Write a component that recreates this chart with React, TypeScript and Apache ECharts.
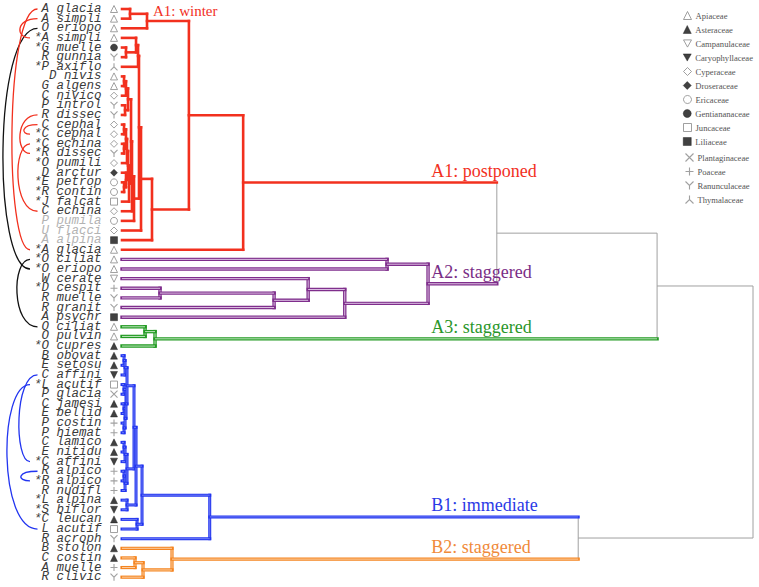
import React, { useEffect, useRef } from 'react';
import * as echarts from 'echarts';

// ---------------- DATA ----------------
const leafNames = [
  'A glacia', 'A simpli', 'O eriopo', '*A simpli', '*G muelle', 'R gunnia', '*P axiflo', 'D nivis', 'G algens', 'C nivico',
  'P introl', 'R dissec', 'C cephal', '*C cephal', '*C echina', '*R dissec', '*O pumili', 'D arctur', '*E petrop', '*R contin',
  '*J falcat', 'C echina', 'P pumila', 'U flacci', 'A alpina', '*A glacia', '*O ciliat', '*O eriopo', 'W cerate', '*D cespit',
  'R muelle', 'R granit', 'A psychr', 'O ciliat', 'O pulvin', '*O cupres', 'B obovat', 'E setosu', 'C affini', '*L acutif',
  'P glacia', 'C jamesi', 'E bellid', 'P costin', 'P hiemat', 'C lamico', 'E nitidu', '*C affini', 'R alpico', '*R alpico',
  'R nudifl', '*L alpina', '*S biflor', '*C leucan', 'L acutif', 'R acroph', 'B stolon', 'C costin', 'A muelle', 'R clivic',
];

const familyNames = [
  'Apiaceae', 'Asteraceae', 'Campanulaceae', 'Caryophyllaceae', 'Cyperaceae', 'Droseraceae', 'Ericaceae',
  'Gentiananaceae', 'Juncaceae', 'Liliaceae', 'Plantaginaceae', 'Poaceae', 'Ranunculaceae', 'Thymalaceae',
];

// family index of every leaf
const leafFamily = [
  0, 0, 0, 0, 7, 12, 13, 0, 0, 4,
  12, 12, 4, 4, 4, 12, 4, 5, 6, 6,
  8, 4, 6, 4, 9, 0, 0, 0, 2, 11,
  12, 12, 9, 0, 0, 1, 1, 1, 3, 8,
  10, 1, 1, 11, 11, 1, 1, 3, 11, 11,
  11, 1, 3, 1, 8, 12, 1, 1, 11, 12,
];

const fadedLeaves = ['P pumila', 'U flacci', 'A alpina'];

// merges: [node, left child, right child, dissimilarity (0-100)]
const merges: [string, string, string, number][] = [
  ['w1', 'A glacia', 'A simpli', 1.27],
  ['winter', 'w1', 'O eriopo', 3.96],
  ['s1a', '*G muelle', 'R gunnia', 0.63],
  ['s1b', '*A simpli', 's1a', 2.22],
  ['s1', 's1b', '*P axiflo', 2.54],
  ['d1', 'D nivis', 'G algens', 0.32],
  ['d2', 'd1', 'C nivico', 0.63],
  ['d3', 'P introl', 'R dissec', 0.48],
  ['d4', 'd2', 'd3', 0.95],
  ['d5', 'C cephal', '*C cephal', 0.32],
  ['d6', '*C echina', '*R dissec', 0.32],
  ['d7', 'd5', 'd6', 0.63],
  ['d8', 'd7', '*O pumili', 0.79],
  ['d9', '*E petrop', '*R contin', 0.32],
  ['d10', 'D arctur', 'd9', 0.63],
  ['d11', 'd8', 'd10', 0.95],
  ['d12', 'd11', '*J falcat', 1.11],
  ['d13', 'd4', 'd12', 1.43],
  ['d14', 'd13', 'C echina', 1.58],
  ['d15', 'd14', 'P pumila', 1.9],
  ['d16', 's1', 'd15', 2.69],
  ['d17', 'd16', 'U flacci', 3.01],
  ['d18', 'd17', 'A alpina', 4.75],
  ['d19', 'winter', 'd18', 10.6],
  ['A1', 'd19', '*A glacia', 19.2],
  ['p1', '*O ciliat', '*O eriopo', 42.0],
  ['p2', '*D cespit', 'R muelle', 6.02],
  ['p3', 'p2', 'R granit', 24.1],
  ['p4', 'W cerate', 'p3', 29.5],
  ['p5', 'p4', 'A psychr', 35.3],
  ['A2', 'p1', 'p5', 48.5],
  ['g1', 'O ciliat', 'O pulvin', 3.65],
  ['A3', 'g1', '*O cupres', 5.23],
  ['A12', 'A1', 'A2', 59.4],
  ['A', 'A12', 'A3', 84.8],
  ['b1', 'B obovat', 'E setosu', 0.32],
  ['b2', 'b1', 'C affini', 0.48],
  ['b3', '*L acutif', 'P glacia', 0.32],
  ['b4', 'C jamesi', 'E bellid', 0.32],
  ['b5', 'P costin', 'P hiemat', 0.32],
  ['b6', 'b4', 'b5', 0.48],
  ['b7', 'b3', 'b6', 0.63],
  ['b8', 'b2', 'b7', 0.79],
  ['b9', 'C lamico', 'E nitidu', 0.32],
  ['b10', 'b9', '*C affini', 0.48],
  ['b11', 'R alpico', '*R alpico', 0.32],
  ['b12', 'b11', 'R nudifl', 0.48],
  ['b13', 'b10', 'b12', 0.79],
  ['b14', 'b8', 'b13', 1.9],
  ['b15', '*L alpina', '*S biflor', 0.79],
  ['b16', 'b14', 'b15', 2.22],
  ['b17', '*C leucan', 'L acutif', 2.38],
  ['b18', 'b16', 'b17', 3.17],
  ['B1', 'b18', 'R acroph', 13.9],
  ['o1', 'C costin', 'A muelle', 2.06],
  ['o2', 'o1', 'R clivic', 3.33],
  ['B2', 'B stolon', 'o2', 7.92],
  ['B', 'B1', 'B2', 72.3],
  ['root', 'A', 'B', 100],
];

// cluster roots and their colour keys
const clusterRoots: [string, number][] = [['A1', 1], ['A2', 2], ['A3', 3], ['B1', 4], ['B2', 5]];

// cluster annotation texts: [node, text]
const clusterLabels: [string, string][] = [
  ['winter', 'A1: winter'],
  ['A1', 'A1: postponed'],
  ['A2', 'A2: staggered'],
  ['A3', 'A3: staggered'],
  ['B1', 'B1: immediate'],
  ['B2', 'B2: staggered'],
];

// paired species links drawn at the left: [leaf, leaf, colour key]
const pairLinks: [string, string, number][] = [
  ['O eriopo', '*O eriopo', 6],
  ['*O ciliat', 'O ciliat', 6],
  ['A glacia', '*A glacia', 1],
  ['A simpli', '*A simpli', 1],
  ['R dissec', '*R dissec', 1],
  ['C cephal', '*C cephal', 1],
  ['C echina', '*C echina', 1],
  ['C affini', '*C affini', 4],
  ['*L acutif', 'L acutif', 4],
  ['R alpico', '*R alpico', 4],
];

// ---------------- LAYOUT / STYLE ----------------
const W = 759;
const H = 587;
const GRID_LEFT = 109.4;
const GRID_RIGHT = 6;
const GRID_TOP = 4.2;
const GRID_HEIGHT = 577.8;
const X_MIN = -2;
const X_MAX = 100;
const SYMBOL_X = -1.27;
const LABEL_RIGHT = 101.5;
const LABEL_FONT = 12.5;
const CHAR_W = LABEL_FONT * 0.6;
const LINK_BULGE = [3, 17, 12, 20, 20, 24, 18, 19, 7, 21];
const LABEL_X = { winter: 4.9, other: 49 };
const LEGEND_LEFT = 683;
const LEGEND_TOP = 11;
const LEGEND_STEP = 14;

const STYLES: { color: string; width: number; inner?: string; innerWidth?: number }[] = [
  { color: '#a0a0a0', width: 1 },
  { color: '#f2301e', width: 2.6 },
  { color: '#7f2e8c', width: 3.4, inner: '#dcc0e2', innerWidth: 1 },
  { color: '#229a22', width: 3.4, inner: '#bfe6bf', innerWidth: 1 },
  { color: '#2235f0', width: 3, inner: '#8390f6', innerWidth: 0.8 },
  { color: '#f5841f', width: 3.2, inner: '#fbd0a6', innerWidth: 1 },
  { color: '#111111', width: 1.3 },
];
const LABEL_COLORS = ['#888', '#f2301e', '#7a2d86', '#2a962a', '#2a3ae6', '#f08a3a'];

const TRI_DOWN = 'path://M0,0L10,0L5,9Z';
const FAMILY_SYMBOL = [
  'triangle', 'triangle', TRI_DOWN, TRI_DOWN, 'diamond', 'diamond', 'circle', 'circle', 'rect', 'rect',
  'path://M0,0L10,10M10,0L0,10', 'path://M5,0L5,10M0,5L10,5', 'path://M0,0L5,5L10,0M5,5L5,10', 'path://M5,0L5,5M0,10L5,5L10,10',
];
const FAMILY_KIND = ['open', 'fill', 'open', 'fill', 'open', 'fill', 'open', 'fill', 'open', 'fill', 'line', 'line', 'line', 'line'];

function familyItemStyle(kind: string) {
  if (kind === 'fill') return { color: '#111', borderColor: '#111', borderWidth: 0.5 };
  if (kind === 'open') return { color: '#fff', borderColor: '#888', borderWidth: 1 };
  return { color: 'none', borderColor: '#888', borderWidth: 1.1 };
}

// ---------------- DERIVED TREE GEOMETRY ----------------
function buildTree() {
  const pos: Record<string, { y: number; h: number }> = {};
  leafNames.forEach((n, i) => (pos[n] = { y: i, h: 0 }));
  const children: Record<string, [string, string]> = {};
  merges.forEach(([id, a, b, h]) => {
    pos[id] = { y: (pos[a].y + pos[b].y) / 2, h };
    children[id] = [a, b];
  });
  const colorOf: Record<string, number> = {};
  Object.keys(pos).forEach((k) => (colorOf[k] = 0));
  const paint = (id: string, c: number) => {
    colorOf[id] = c;
    const ch = children[id];
    if (ch) {
      paint(ch[0], c);
      paint(ch[1], c);
    }
  };
  clusterRoots.forEach(([id, c]) => paint(id, c));
  const segs: number[][] = [];
  merges.forEach(([id, a, b, h]) => {
    segs.push([h, pos[a].y, h, pos[b].y, colorOf[id]]);
    segs.push([pos[a].h, pos[a].y, h, pos[a].y, colorOf[a]]);
    segs.push([pos[b].h, pos[b].y, h, pos[b].y, colorOf[b]]);
  });
  segs.sort((s, t) => (s[4] === 0 ? 0 : 1) - (t[4] === 0 ? 0 : 1));
  return { pos, colorOf, segs };
}

function buildOption() {
  const { pos, colorOf, segs } = buildTree();

  const familySeries = familyNames.map((fam, fi) => ({
    name: fam,
    type: 'scatter',
    xAxisIndex: 0,
    yAxisIndex: 1,
    symbol: FAMILY_SYMBOL[fi],
    symbolSize: 7,
    itemStyle: familyItemStyle(FAMILY_KIND[fi]),
    emphasis: { disabled: true },
    silent: true,
    data: leafNames.map((_, i) => i).filter((i) => leafFamily[i] === fi).map((i) => [SYMBOL_X, i]),
  }));

  const treeSeries = {
    type: 'custom',
    xAxisIndex: 0,
    yAxisIndex: 1,
    clip: false,
    silent: true,
    encode: { x: [0, 2], y: [1, 3] },
    data: segs,
    renderItem: (params: any, api: any) => {
      const p1 = api.coord([api.value(0), api.value(1)]);
      const p2 = api.coord([api.value(2), api.value(3)]);
      const st = STYLES[api.value(4)];
      const shape = { x1: p1[0], y1: p1[1], x2: p2[0], y2: p2[1] };
      const ch: any[] = [
        { type: 'line', shape, style: { stroke: st.color, lineWidth: st.width, lineCap: st.width > 1 ? 'square' : 'butt' } },
      ];
      if (st.inner) ch.push({ type: 'line', shape, style: { stroke: st.inner, lineWidth: st.innerWidth, lineCap: 'butt' } });
      return { type: 'group', children: ch };
    },
  };

  const linkSeries = {
    type: 'custom',
    xAxisIndex: 0,
    yAxisIndex: 1,
    clip: false,
    silent: true,
    encode: { x: 3, y: 0 },
    data: pairLinks.map(([a, b, c], k) => [leafNames.indexOf(a), leafNames.indexOf(b), LINK_BULGE[k], c]),
    renderItem: (params: any, api: any) => {
      const ia = api.value(0);
      const ib = api.value(1);
      const ya = api.coord([0, ia])[1];
      const yb = api.coord([0, ib])[1];
      const xa = LABEL_RIGHT - leafNames[ia].length * CHAR_W - 4;
      const xb = LABEL_RIGHT - leafNames[ib].length * CHAR_W - 4;
      const bulge = api.value(2);
      const c = (bulge - 0.125 * (xa + xb)) / 0.75;
      const st = STYLES[api.value(3)];
      return {
        type: 'bezierCurve',
        shape: { x1: xa, y1: ya, x2: xb, y2: yb, cpx1: c, cpy1: ya, cpx2: c, cpy2: yb },
        style: { stroke: st.color, fill: 'none', lineWidth: 1.3 },
      };
    },
  };

  const labelSeries = {
    type: 'custom',
    xAxisIndex: 0,
    yAxisIndex: 1,
    clip: false,
    silent: true,
    encode: { x: 0, y: 1 },
    data: clusterLabels.map(([node], k) => [
      node === 'winter' ? LABEL_X.winter : LABEL_X.other,
      pos[node].y,
      k,
    ]),
    renderItem: (params: any, api: any) => {
      const p = api.coord([api.value(0), api.value(1)]);
      const k = api.value(2);
      const node = clusterLabels[k][0];
      const small = node === 'winter';
      return {
        type: 'text',
        x: p[0],
        y: p[1] - 3,
        style: {
          text: clusterLabels[k][1],
          fill: LABEL_COLORS[colorOf[node]],
          fontFamily: 'Liberation Serif',
          fontSize: small ? 15 : 18,
          align: 'left',
          verticalAlign: 'bottom',
        },
      };
    },
  };

  const legends = familyNames.map((f, fi) => ({
    orient: 'horizontal',
    left: LEGEND_LEFT,
    top: LEGEND_TOP + fi * LEGEND_STEP,
    padding: 0,
    itemWidth: 8,
    itemHeight: 8,
    selectedMode: false,
    textStyle: { fontFamily: 'Liberation Serif', fontSize: 8.6, color: '#555', padding: [0, 0, 0, -1] },
    data: [{ name: f, icon: FAMILY_SYMBOL[fi], itemStyle: familyItemStyle(FAMILY_KIND[fi]) }],
  }));

  return {
    animation: false,
    backgroundColor: '#fff',
    grid: { left: GRID_LEFT, right: GRID_RIGHT, top: GRID_TOP, height: GRID_HEIGHT, containLabel: false },
    legend: legends,
    xAxis: { type: 'value', min: X_MIN, max: X_MAX, show: false },
    yAxis: [
      {
        type: 'category',
        inverse: true,
        data: leafNames.map((n) => (fadedLeaves.includes(n) ? { value: n, textStyle: { color: '#b3b3b3' } } : n)),
        axisLine: { show: false, onZero: false },
        axisTick: { show: false },
        splitLine: { show: false },
        axisLabel: {
          interval: 0,
          margin: GRID_LEFT - LABEL_RIGHT,
          fontFamily: 'Liberation Mono',
          fontStyle: 'italic',
          fontSize: LABEL_FONT,
          lineHeight: 9,
          color: '#3a3a3a',
        },
      },
      { type: 'value', inverse: true, min: -0.5, max: leafNames.length - 0.5, show: false },
    ],
    series: [treeSeries, linkSeries, labelSeries, ...familySeries],
  };
}

export default function App() {
  const ref = useRef<HTMLDivElement>(null);
  useEffect(() => {
    if (!ref.current) return;
    const chart = echarts.init(ref.current, null, { renderer: 'svg' });
    chart.setOption(buildOption() as any);
    return () => chart.dispose();
  }, []);
  return (
    <div
      ref={ref}
      style={{ position: 'fixed', left: 0, top: 0, width: W, height: H, background: '#fff' }}
    />
  );
}
